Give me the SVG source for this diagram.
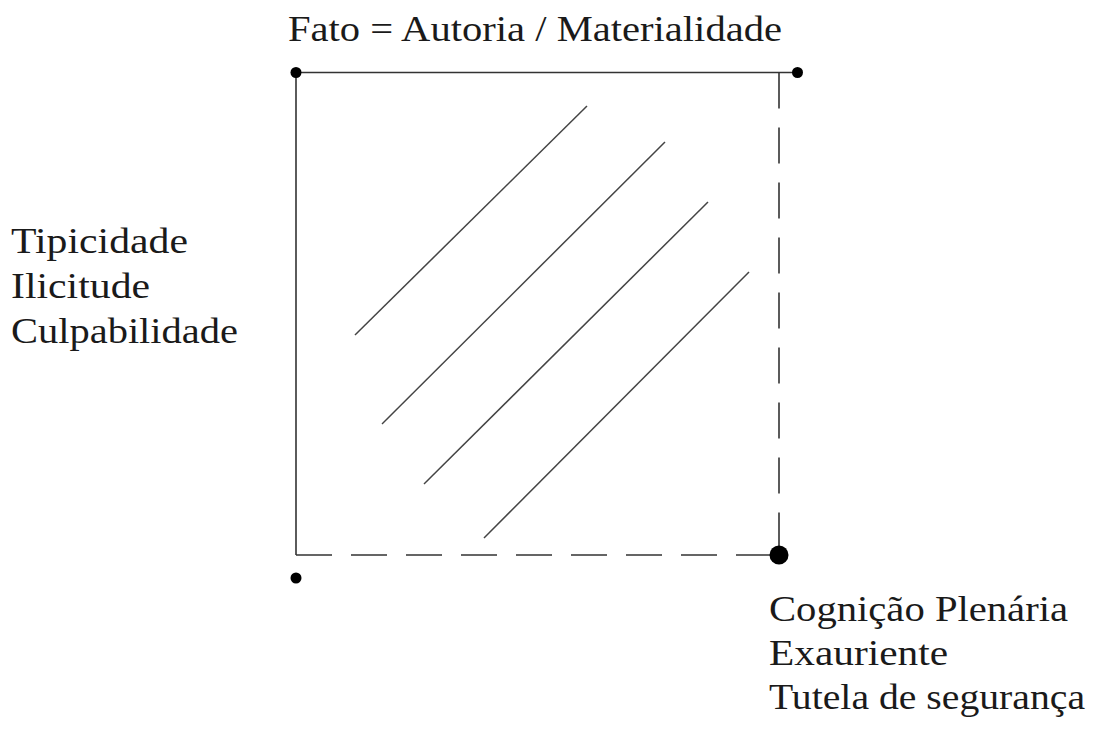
<svg xmlns="http://www.w3.org/2000/svg" width="1095" height="729" viewBox="0 0 1095 729">
<style>
.t{font-family:"Liberation Serif","DejaVu Serif",serif;font-size:36px;fill:#1a1a1a}
.s{stroke:#333;stroke-width:1.6;fill:none}
.d{stroke:#333;stroke-width:1.6;fill:none;stroke-dasharray:36 19}
.h{stroke:#444;stroke-width:1.5}
.dot{fill:#000}
</style>
<rect width="1095" height="729" fill="#fff"/>
<g id="labels">
<text class="t" x="288" y="41" textLength="494" lengthAdjust="spacingAndGlyphs">Fato = Autoria / Materialidade</text>
<text class="t" x="11" y="253" textLength="177" lengthAdjust="spacingAndGlyphs">Tipicidade</text>
<text class="t" x="11" y="298" textLength="139" lengthAdjust="spacingAndGlyphs">Ilicitude</text>
<text class="t" x="11" y="343" textLength="227" lengthAdjust="spacingAndGlyphs">Culpabilidade</text>
<text class="t" x="769" y="621" textLength="299" lengthAdjust="spacingAndGlyphs">Cognição Plenária</text>
<text class="t" x="769" y="665" textLength="179" lengthAdjust="spacingAndGlyphs">Exauriente</text>
<text class="t" x="769" y="709" textLength="316" lengthAdjust="spacingAndGlyphs">Tutela de segurança</text>
</g>
<g id="connectors">
<line class="s" x1="296" y1="72.5" x2="797" y2="72.5"/>
<line class="s" x1="296" y1="72.5" x2="296" y2="555"/>
<line class="d" x1="779" y1="72.5" x2="779" y2="555"/>
<line class="d" x1="296" y1="555" x2="779" y2="555"/>
</g>
<g id="hatch">
<line class="h" x1="355" y1="335" x2="587" y2="106"/>
<line class="h" x1="382" y1="424" x2="665" y2="142"/>
<line class="h" x1="424" y1="484" x2="708" y2="202"/>
<line class="h" x1="484" y1="538" x2="749" y2="272"/>
</g>
<g id="node-tl"><circle class="dot" cx="296" cy="72.5" r="5.5"/></g>
<g id="node-tr"><circle class="dot" cx="797.5" cy="72.5" r="5.5"/></g>
<g id="node-bl"><circle class="dot" cx="296" cy="578" r="5.5"/></g>
<g id="node-br"><circle class="dot" cx="779" cy="555" r="9.5"/></g>
</svg>
